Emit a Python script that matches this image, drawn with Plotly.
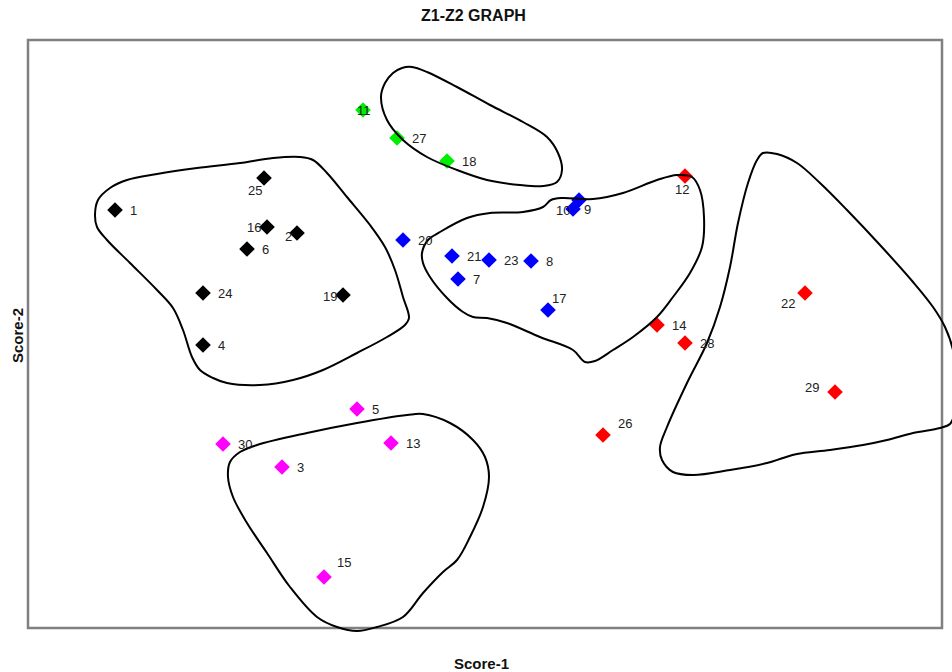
import plotly.graph_objects as go

# ---- data (Score-1 / Score-2; Score-2 axis drawn reversed) ----
black_ids = [1, 25, 16, 2, 6, 24, 19, 4]
black_x = [115, 264, 267, 297, 247, 203, 343, 203]
black_y = [210, 178, 227, 233, 249, 293, 295, 345]

green_ids = [11, 27, 18]
green_x = [363, 397, 447]
green_y = [110, 138, 161]

blue_ids = [20, 21, 23, 8, 7, 17, 10, 9]
blue_x = [403, 452, 489, 531, 458, 548, 573, 579]
blue_y = [240, 256, 260, 261, 279, 310, 209, 200]

red_ids = [12, 14, 28, 22, 29, 26]
red_x = [685, 657, 685, 805, 835, 603]
red_y = [176, 325, 343, 293, 392, 435]

magenta_ids = [5, 30, 13, 3, 15]
magenta_x = [357, 223, 391, 282, 324]
magenta_y = [409, 444, 443, 467, 577]

# cluster outlines (hand-drawn contours)
black_blob_x = [95, 98, 110, 127, 157, 197, 240, 273, 300, 313, 327, 347, 370, 385, 395, 403, 409, 405,
                387, 357, 323, 293, 260, 227, 213, 200, 192, 183, 173, 157, 130, 107, 97]
black_blob_y = [215, 200, 188, 180, 174, 168, 163, 158, 157, 160, 173, 197, 225, 247, 270, 297, 318, 325,
                337, 353, 370, 380, 385, 383, 378, 370, 357, 330, 308, 290, 263, 240, 227]

green_blob_x = [402, 412, 427, 457, 490, 523, 547, 558, 562, 557, 543, 520, 487, 457, 427, 403, 387, 381, 385, 393]
green_blob_y = [68, 67, 72, 87, 105, 122, 137, 153, 170, 182, 186, 185, 180, 170, 157, 140, 120, 97, 83, 73]

blue_blob_x = [422, 428, 440, 467, 490, 523, 543, 551, 562, 593, 623, 657, 677, 692, 700, 704, 702, 690,
               673, 657, 633, 613, 595, 585, 573, 540, 507, 487, 473, 463, 447, 430, 423]
blue_blob_y = [253, 240, 232, 218, 213, 212, 207, 200, 198, 199, 193, 180, 175, 177, 190, 217, 247, 273,
               297, 317, 337, 350, 361, 362, 350, 337, 323, 318, 317, 312, 298, 277, 263]

red_blob_x = [763, 777, 797, 820, 847, 880, 913, 933, 945, 953, 957, 955, 950, 940, 913, 887, 863, 830,
              797, 783, 767, 730, 693, 673, 662, 660, 667, 687, 707, 720, 730, 738, 748, 757]
red_blob_y = [153, 154, 163, 183, 210, 245, 282, 307, 327, 350, 385, 412, 424, 428, 433, 440, 445, 450,
              454, 458, 463, 470, 475, 472, 460, 447, 427, 383, 343, 307, 267, 223, 183, 160]

magenta_blob_x = [230, 228, 233, 247, 267, 290, 317, 337, 357, 377, 403, 423, 443, 457, 470, 483, 489,
                  485, 473, 450, 423, 407, 357, 307, 257, 240]
magenta_blob_y = [462, 477, 497, 523, 553, 587, 617, 627, 631, 627, 617, 593, 572, 560, 537, 507, 477,
                  457, 440, 423, 414, 415, 423, 433, 445, 452]

title_text = "Z1-Z2 GRAPH"
x_title = "Score-1"
y_title = "Score-2"

# ---- styling ----
groups = [
    (black_ids, black_x, black_y, "#000000"),
    (green_ids, green_x, green_y, "#00ee00"),
    (blue_ids, blue_x, blue_y, "#0000ff"),
    (red_ids, red_x, red_y, "#ff0000"),
    (magenta_ids, magenta_x, magenta_y, "#ff00ff"),
]
blobs = [
    (black_blob_x, black_blob_y),
    (green_blob_x, green_blob_y),
    (blue_blob_x, blue_blob_y),
    (red_blob_x, red_blob_y),
    (magenta_blob_x, magenta_blob_y),
]
# label placement: (xanchor, xshift px, yshift px)
default_label = ("left", 15, 0)
label_place = {
    25: ("center", -9, -12.5),
    16: ("right", -6, 0),
    2: ("right", -5.5, -3),
    19: ("right", -6.5, -1.5),
    11: ("center", 1, 0),
    17: ("left", 4, 12),
    10: ("right", -3, -1),
    9: ("left", 5, -9),
    12: ("center", -3.3, -13.7),
    22: ("right", -10, -10),
    29: ("right", -16, 4.5),
    26: ("left", 15, 12),
    15: ("left", 12.7, 15),
}

FONT = "Liberation Sans, Arial, sans-serif"
fig = go.Figure()

for ids, xs, ys, col in groups:
    fig.add_trace(go.Scatter(
        x=xs, y=ys, mode="markers",
        marker=dict(symbol="diamond", size=12, color=col, line=dict(width=0)),
        hoverinfo="skip", showlegend=False,
    ))

for bx, by in blobs:
    fig.add_trace(go.Scatter(
        x=bx + [bx[0]], y=by + [by[0]], mode="lines",
        line=dict(color="black", width=2, shape="spline", smoothing=1.0),
        hoverinfo="skip", showlegend=False,
    ))

annotations = []
for ids, xs, ys, col in groups:
    for i, xv, yv in zip(ids, xs, ys):
        anc, dx, dy = label_place.get(i, default_label)
        annotations.append(dict(
            x=xv, y=yv, xref="x", yref="y", text=str(i), showarrow=False,
            xanchor=anc, yanchor="middle", xshift=dx, yshift=dy,
            borderpad=0, borderwidth=0,
            font=dict(family=FONT, size=13, color="#222222"),
        ))

annotations += [
    dict(x=473, y=15.5, xref="x", yref="y", text="<b>" + title_text + "</b>", showarrow=False,
         xanchor="center", yanchor="middle", font=dict(family=FONT, size=16, color="#111111")),
    dict(x=481, y=663, xref="x", yref="y", text="<b>" + x_title + "</b>", showarrow=False,
         xanchor="center", yanchor="middle", font=dict(family=FONT, size=15, color="#111111")),
    dict(x=17, y=336, xref="x", yref="y", text="<b>" + y_title + "</b>", showarrow=False,
         textangle=-90, xanchor="center", yanchor="middle",
         font=dict(family=FONT, size=15, color="#111111")),
]

fig.update_layout(
    width=952, height=672,
    margin=dict(l=0, r=0, t=0, b=0),
    paper_bgcolor="white", plot_bgcolor="white",
    xaxis=dict(range=[0, 952], visible=False, fixedrange=True),
    yaxis=dict(range=[672, 0], visible=False, fixedrange=True),
    shapes=[dict(type="rect", xref="x", yref="y", x0=28, x1=942, y0=40, y1=628,
                 line=dict(color="#808080", width=2.5), layer="below")],
    annotations=annotations,
    hovermode=False,
)

fig.write_html(
    "out.html",
    config=dict(displayModeBar=False),
    post_script="document.body.style.margin='0px';document.body.style.overflow='hidden';",
)
